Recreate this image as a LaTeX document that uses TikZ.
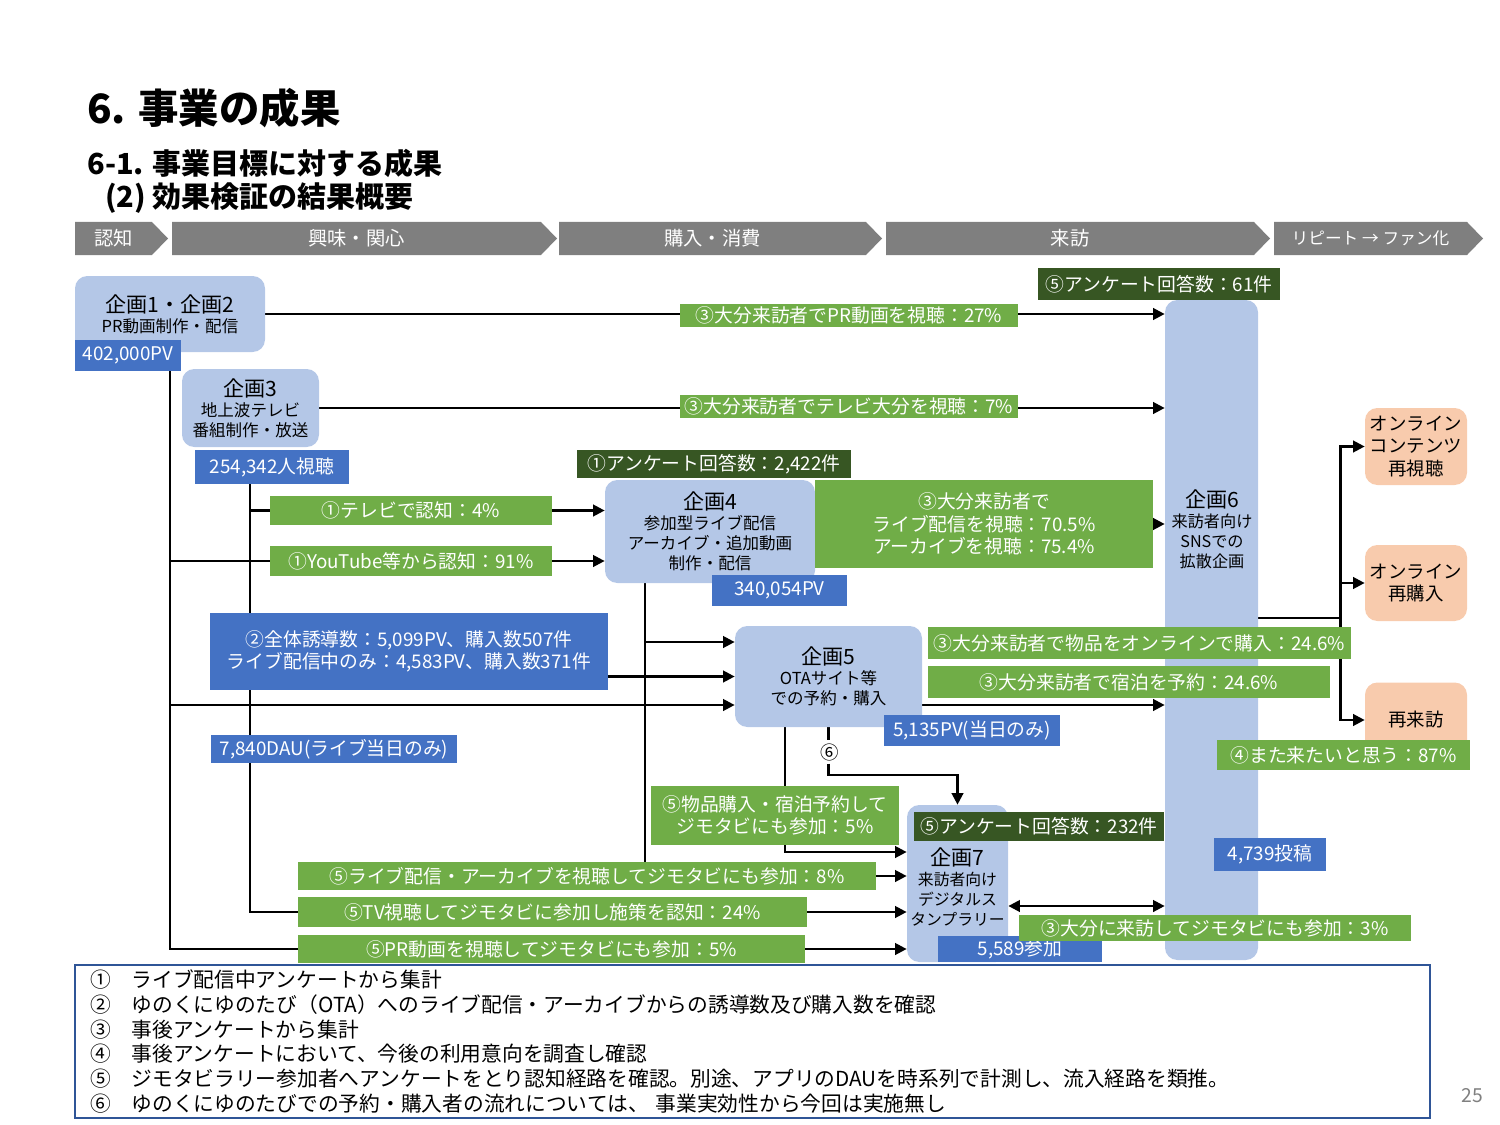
\documentclass[tikz,border=0pt]{standalone}
\usepackage{fontspec}
\setmainfont{Noto Sans CJK JP}
\usetikzlibrary{arrows.meta,positioning,calc,backgrounds}
\definecolor{kblue}{HTML}{B4C7E7}
\definecolor{lgreen}{HTML}{70AD47}
\definecolor{dgreen}{HTML}{375623}
\definecolor{mblue}{HTML}{4472C4}
\definecolor{orng}{HTML}{F8CBAD}
\definecolor{chgray}{HTML}{7F7F7F}
\definecolor{nblue}{HTML}{2F5597}
\newcommand{\fsz}[2]{\fontsize{#1pt}{#2pt}\selectfont}
\newcommand{\kttl}[1]{{\fsz{12}{15}#1}}
\newcommand{\notenum}[1]{\makebox[2em][l]{#1}}
\tikzset{
  ktxt/.style={align=center,inner sep=0pt,font=\fsz{9.4}{11.4}},
  kbox/.style={ktxt,fill=kblue,rounded corners=7pt},
  glab/.style={fill=lgreen,text=white,align=center,inner sep=0pt,font=\fsz{10.7}{12.8}},
  dlab/.style={glab,fill=dgreen},
  blab/.style={glab,fill=mblue},
  obox/.style={fill=orng,rounded corners=7pt,align=center,inner sep=0pt,font=\fsz{10.5}{13}},
  sz/.style 2 args={minimum width=#1*0.02cm,minimum height=#2*0.02cm},
  ln/.style={line width=1.3pt},
  ar/.style={ln,-{Triangle[length=6.5pt,width=6.5pt]}},
  dar/.style={ln,{Triangle[length=6.5pt,width=6.5pt]}-{Triangle[length=6.5pt,width=6.5pt]}},
}

\begin{document}
\begin{tikzpicture}[x=0.02cm,y=-0.02cm]
\useasboundingbox (0,0) rectangle (1500,1125);
% titles
\node[anchor=west,inner sep=0pt,font=\fsz{23}{28}\bfseries] (t1) at (87,108) {6. 事業の成果};
\node[anchor=west,inner sep=0pt,font=\fsz{16.5}{20}\bfseries] (t2) at (87,163) {6-1. 事業目標に対する成果};
\node[anchor=west,inner sep=0pt,font=\fsz{16.5}{20}\bfseries] (t3) at (105,198) {(2) 効果検証の結果概要};
% funnel stages
\foreach \xa/\xb/\tx/\fz [count=\i] in {75/168/認知/11, 172/557/興味・関心/11, 559/882/購入・消費/11, 886/1270/来訪/11, 1274/1483/リピート → ファン化/9.5}{
  \fill[chgray] (\xa,222) -- (\xb-16,222) -- (\xb,238.5) -- (\xb-16,255) -- (\xa,255) -- cycle;
  \node[text=white,font=\fsz{\fz}{12}] (st\i) at ({(\xa+\xb-16)/2},238.5) {\tx};
}
% planning boxes
\node[kbox,sz={190}{76}] (k12) at (170,314) {\kttl{企画1・企画2}\\PR動画制作・配信};
\node[kbox,sz={137}{78}] (k3) at (250.5,408) {\kttl{企画3}\\地上波テレビ\\番組制作・放送};
\node[kbox,sz={210}{103}] (k4) at (710,531.5) {\kttl{企画4}\\参加型ライブ配信\\アーカイブ・追加動画\\制作・配信};
\node[kbox,sz={187}{101}] (k5) at (828.5,676.5) {\kttl{企画5}\\OTAサイト等\\での予約・購入};
\node[kbox,sz={93}{660}] (k6) at (1211.5,630) {};
\node[ktxt,font=\fsz{9.2}{11.4}] (k6t) at (1212,529) {\kttl{企画6}\\来訪者向け\\SNSでの\\拡散企画};
\node[kbox,sz={101}{157}] (k7) at (957.5,883.5) {};
\node[ktxt,font=\fsz{9}{11.4}] (k7t) at (957.5,887) {\kttl{企画7}\\来訪者向け\\デジタルス\\タンプラリー};
\node[obox,sz={102}{77}] (o1) at (1416,446.5) {オンライン\\コンテンツ\\再視聴};
\node[obox,sz={102}{76}] (o2) at (1416,583) {オンライン\\再購入};
\node[obox,sz={102}{75}] (o3) at (1416,720) {再来訪};
% figures
\node[blab,sz={106}{31}] (pv1) at (128,355.5) {402,000PV};
\node[blab,sz={154}{34}] (pv3) at (272,467) {254,342人視聴};
\node[blab,sz={135}{31}] (pv4) at (779.5,590.5) {340,054PV};
\node[blab,sz={176}{31}] (pv5) at (972,730.5) {5,135PV(当日のみ)};
\node[blab,sz={112}{33}] (pv6) at (1270,854.5) {4,739投稿};
\node[blab,sz={164}{26}] (pv7) at (1020,949) {5,589参加};
\node[blab,sz={398}{77}] (b2) at (409,651.5) {②全体誘導数：5,099PV、購入数507件\\ライブ配信中のみ：4,583PV、購入数371件};
\node[blab,sz={246}{28}] (dau) at (334,749) {7,840DAU(ライブ当日のみ)};
\node[dlab,sz={274}{28}] (q1) at (714,464) {①アンケート回答数：2,422件};
\node[dlab,sz={242}{32}] (q6) at (1159,284) {⑤アンケート回答数：61件};
\node[dlab,sz={250}{29}] (q7) at (1039,826.5) {⑤アンケート回答数：232件};
\node[glab,sz={338}{23}] (g1) at (849,315.5) {③大分来訪者でPR動画を視聴：27\%};
\node[glab,sz={338}{23}] (g2) at (849,406.5) {③大分来訪者でテレビ大分を視聴：7\%};
\node[glab,sz={338}{88}] (g3) at (984,524) {③大分来訪者で\\ライブ配信を視聴：70.5\%\\アーカイブを視聴：75.4\%};
\node[glab,sz={282}{29}] (gT) at (411,510.5) {①テレビで認知：4\%};
\node[glab,sz={282}{30}] (gY) at (411,561) {①YouTube等から認知：91\%};
\node[glab,sz={423}{32}] (g5a) at (1139.5,643) {③大分来訪者で物品をオンラインで購入：24.6\%};
\node[glab,sz={402}{32}] (g5b) at (1129,682) {③大分来訪者で宿泊を予約：24.6\%};
\node[glab,sz={248}{59}] (g5c) at (775,815.5) {⑤物品購入・宿泊予約して\\ジモタビにも参加：5\%};
\node[glab,sz={578}{28}] (gL) at (587,876) {⑤ライブ配信・アーカイブを視聴してジモタビにも参加：8\%};
\node[glab,sz={509}{30}] (gTV) at (552.5,912) {⑤TV視聴してジモタビに参加し施策を認知：24\%};
\node[glab,sz={507}{28}] (gPR) at (551.5,949) {⑤PR動画を視聴してジモタビにも参加：5\%};
\node[glab,sz={392}{26}] (g8) at (1215,928) {③大分に来訪してジモタビにも参加：3\%};
\node[glab,sz={253}{30}] (g7) at (1343.5,755) {④また来たいと思う：87\%};
\node[font=\fsz{10.5}{12},inner sep=1.5pt] (c6) at (830,752) {⑥};
% connectors
\begin{scope}[on background layer]
\coordinate (ta) at ($(pv1.south)+(42,0)$);
\coordinate (tb) at ($(pv3.south)+(-22,0)$);
\coordinate (tc) at ($(k4.south)+(-65,0)$);
\coordinate (k5t) at ($(k5.west)+(0,-34.5)$);
\coordinate (k5b) at ($(k5.west)+(0,28.5)$);
\coordinate (k5s) at ($(k5.south)+(-43.5,0)$);
\coordinate (k7a) at ($(k7.west)+(0,-31.5)$);
\coordinate (k7e) at ($(k7.east)+(0,22.5)$);
\coordinate (br) at ($(k6.east)+(82,-12)$);
\draw[ar] (k12.east) -- (k12.east -| k6.west);
\draw[ar] (k3.east) -- (k3.east -| k6.west);
\draw[ar] (g3.east) -- (g3.east -| k6.west);
\draw[ln] (ta) -- (ta |- gPR.west) -- (gPR.west);
\draw[ln] (ta |- gY.west) -- (gY.west);
\draw[ar] (gY.east) -- (gY.east -| k4.west);
\draw[ar] (ta |- k5b) -- (k5b);
\draw[ar] (gPR.east) -- (gPR.east -| k7.west);
\draw[ln] (tb) -- (tb |- gTV.west) -- (gTV.west);
\draw[ln] (tb |- gT.west) -- (gT.west);
\draw[ar] (gT.east) -- (gT.east -| k4.west);
\draw[ar] (gTV.east) -- (gTV.east -| k7.west);
\draw[ar] (b2.east |- k5.west) -- (k5.west);
\draw[ln] (tc) -- (tc |- gL.north);
\draw[ar] (tc |- k5t) -- (k5t);
\draw[ar] (gL.east) -- (gL.east -| k7.west);
\draw[ar] (k5b -| k5.east) -- (k5b -| k6.west);
\draw[ar] (k5s) |- (k7a);
\draw[ln] (k5.south) -- (k5.south |- c6.north);
\draw[ar] (k5.south |- c6.south) |- ($(k7.north)+(0,-30)$) -- (k7.north);
\draw[dar] (k7e) -- (k7e -| k6.west);
\draw[ln] ($(k6.east)+(0,-12)$) -- (br);
\draw[ar] (br) |- (o1.west);
\draw[ar] (br) |- (o2.west);
\draw[ar] (br) |- (o3.west);
\end{scope}
% notes
\node[draw=nblue,line width=1pt,fill=white,sz={1355}{153},inner xsep=0.28cm,inner ysep=0pt,text width=26.5cm,align=left,font=\fsz{11.8}{14.2}] (nt) at (752.5,1041.5) {%
\notenum{①}ライブ配信中アンケートから集計\\
\notenum{②}ゆのくにゆのたび（OTA）へのライブ配信・アーカイブからの誘導数及び購入数を確認\\
\notenum{③}事後アンケートから集計\\
\notenum{④}事後アンケートにおいて、今後の利用意向を調査し確認\\
\notenum{⑤}ジモタビラリー参加者へアンケートをとり認知経路を確認。別途、アプリのDAUを時系列で計測し、流入経路を類推。\\
\notenum{⑥}ゆのくにゆのたびでの予約・購入者の流れについては、 事業実効性から今回は実施無し};
\node[text=gray,font=\fsz{11}{13}] (pg) at (1472,1096) {25};
\end{tikzpicture}
\end{document}
